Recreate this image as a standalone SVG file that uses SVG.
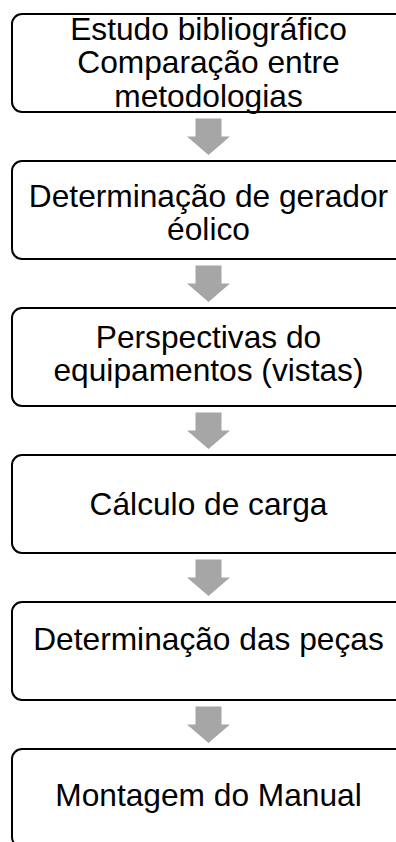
<svg xmlns="http://www.w3.org/2000/svg" width="396" height="842" viewBox="0 0 396 842">
<defs>
<style>
.box{fill:#ffffff;stroke:#000000;stroke-width:2}
.t{font-family:"Liberation Sans",Arial,sans-serif;font-size:31.7px;fill:#000000;text-anchor:middle}
.arr{fill:#a6a6a6}
</style>
<path id="down" class="arr" d="M-13,0 H13 V18 H21.5 L0,36.5 L-21.5,18 H-13 Z"/>
</defs>
<rect width="396" height="842" fill="#ffffff"/>
<g id="connectors">
<use href="#down" x="208.5" y="118.5"/>
<use href="#down" x="208.5" y="265.5"/>
<use href="#down" x="208.5" y="412.5"/>
<use href="#down" x="208.5" y="559.5"/>
<use href="#down" x="208.5" y="706.5"/>
</g>
<g id="n1">
<rect class="box" x="12" y="14" width="393" height="98" rx="10"/>
<text class="t" x="208.5" y="39.5">Estudo bibliográfico</text>
<text class="t" x="208.5" y="73">Comparação entre</text>
<text class="t" x="208.5" y="106.5">metodologias</text>
</g>
<g id="n2">
<rect class="box" x="12" y="161" width="393" height="98" rx="10"/>
<text class="t" x="208.5" y="206.5">Determinação de gerador</text>
<text class="t" x="208.5" y="240">éolico</text>
</g>
<g id="n3">
<rect class="box" x="12" y="308" width="393" height="98" rx="10"/>
<text class="t" x="208.5" y="347.5">Perspectivas do</text>
<text class="t" x="208.5" y="381">equipamentos (vistas)</text>
</g>
<g id="n4">
<rect class="box" x="12" y="455" width="393" height="98" rx="10"/>
<text class="t" x="208.5" y="515">Cálculo de carga</text>
</g>
<g id="n5">
<rect class="box" x="12" y="602" width="393" height="98" rx="10"/>
<text class="t" x="208.5" y="650">Determinação das peças</text>
</g>
<g id="n6">
<rect class="box" x="12" y="749" width="393" height="98" rx="10"/>
<text class="t" x="208.5" y="806">Montagem do Manual</text>
</g>
</svg>
